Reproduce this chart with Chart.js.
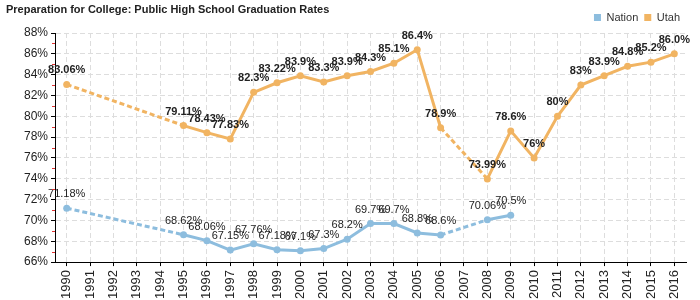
<!DOCTYPE html>
<html>
<head>
<meta charset="utf-8">
<script src="https://cdn.jsdelivr.net/npm/chart.js"></script>
<style>
  body { margin: 0; background: #fff; }
  .wrap { position: relative; width: 700px; height: 300px; }
  .title { position: absolute; left: 6px; top: 3px; font: bold 11px "Liberation Sans", Arial, sans-serif; color: #222; }
</style>
</head>
<body>
<div class="wrap">
  <div class="title">Preparation for College: Public High School Graduation Rates</div>
  <canvas id="myChart"></canvas>
</div>
<script>
const years = ['1990','1991','1992','1993','1994','1995','1996','1997','1998','1999','2000','2001','2002',
               '2003','2004','2005','2006','2007','2008','2009','2010','2011','2012','2013','2014','2015','2016'];

// values kept as text so the labels read like the original ("86.0%", "83%")
const nationRates = ['71.18', null, null, null, null, '68.62', '68.06', '67.15', '67.76', '67.18', '67.1', '67.3', '68.2',
                     '69.7', '69.7', '68.8', '68.6', null, '70.06', '70.5', null, null, null, null, null, null, null];
const utahRates = ['83.06', null, null, null, null, '79.11', '78.43', '77.83', '82.3', '83.22', '83.9', '83.3', '83.9',
                   '84.3', '85.1', '86.4', '78.9', null, '73.99', '78.6', '76', '80', '83', '83.9', '84.8', '85.2', '86.0'];

const yMin = 66;
const yMax = 88;
const yStep = 2;

const nationColor = 'rgb(141, 189, 222)';
const utahColor = 'rgb(241, 180, 98)';

const toNum = (arr) => arr.map(v => v === null ? null : Number(v));
const gapDash = (ctx) => (ctx.p0.skip || ctx.p1.skip) ? [5, 3] : undefined;

const pointLabels = {
  id: 'pointLabels',
  afterDatasetsDraw(chart) {
    const ctx = chart.ctx;
    const texts = [nationRates, utahRates];
    ctx.save();
    ctx.textAlign = 'center';
    ctx.textBaseline = 'middle';
    chart.data.datasets.forEach((ds, i) => {
      const meta = chart.getDatasetMeta(i);
      ctx.font = (i === 1 ? 'bold ' : '') + '11px "Liberation Sans", Arial, sans-serif';
      ctx.fillStyle = '#222';
      meta.data.forEach((pt, j) => {
        const t = texts[i][j];
        if (t === null) return;
        ctx.fillText(t + '%', pt.x, pt.y - 14);
      });
    });
    ctx.restore();
  }
};

// small red marks between the major y ticks
const minorTicks = {
  id: 'minorTicks',
  afterDraw(chart) {
    const y = chart.scales.y;
    const ctx = chart.ctx;
    ctx.save();
    ctx.strokeStyle = '#e03030';
    ctx.lineWidth = 1;
    for (let v = yMin + 1; v < yMax; v += yStep) {
      const py = Math.round(y.getPixelForValue(v)) + 0.5;
      ctx.beginPath();
      ctx.moveTo(y.right - 3, py);
      ctx.lineTo(y.right, py);
      ctx.stroke();
    }
    ctx.restore();
  }
};

const ctx = document.getElementById('myChart');

new Chart(ctx, {
  type: 'line',
  data: {
    labels: years,
    datasets: [
      {
        label: 'Nation',
        data: toNum(nationRates),
        borderColor: nationColor,
        backgroundColor: nationColor,
        borderWidth: 3,
        pointRadius: 3.5,
        pointBorderWidth: 0,
        tension: 0,
        spanGaps: true,
        segment: { borderDash: gapDash }
      },
      {
        label: 'Utah',
        data: toNum(utahRates),
        borderColor: utahColor,
        backgroundColor: utahColor,
        borderWidth: 3,
        pointRadius: 3.5,
        pointBorderWidth: 0,
        tension: 0,
        spanGaps: true,
        segment: { borderDash: gapDash }
      }
    ]
  },
  options: {
    responsive: true,
    maintainAspectRatio: false,
    animation: false,
    layout: { padding: { left: 21, right: 14, top: 6, bottom: -3 } },
    plugins: {
      legend: {
        position: 'top',
        align: 'end',
        labels: {
          boxWidth: 7,
          boxHeight: 7,
          padding: 6,
          color: '#333',
          font: { size: 11, family: '"Liberation Sans", Arial, sans-serif' },
          generateLabels: (chart) => chart.data.datasets.map((ds, i) => ({
            text: ds.label,
            fillStyle: ds.backgroundColor,
            strokeStyle: ds.backgroundColor,
            lineWidth: 0,
            datasetIndex: i,
            fontColor: '#333'
          }))
        }
      },
      tooltip: { enabled: false }
    },
    scales: {
      x: {
        offset: true,
        grid: { offset: false, color: '#dddddd', tickColor: '#000', tickLength: 4 },
        border: { color: '#000', dash: [5, 3] },
        ticks: {
          autoSkip: false,
          maxRotation: 90,
          minRotation: 90,
          padding: 4,
          color: '#222',
          font: { size: 13, family: '"Liberation Sans", Arial, sans-serif' }
        }
      },
      y: {
        min: yMin,
        max: yMax,
        grid: { color: '#dddddd', tickColor: '#000', tickLength: 4 },
        border: { color: '#000', dash: [5, 3] },
        ticks: {
          stepSize: yStep,
          padding: 3,
          color: '#222',
          font: { size: 12, family: '"Liberation Sans", Arial, sans-serif' },
          callback: (v) => v + '%'
        }
      }
    }
  },
  plugins: [pointLabels, minorTicks]
});
</script>
</body>
</html>
